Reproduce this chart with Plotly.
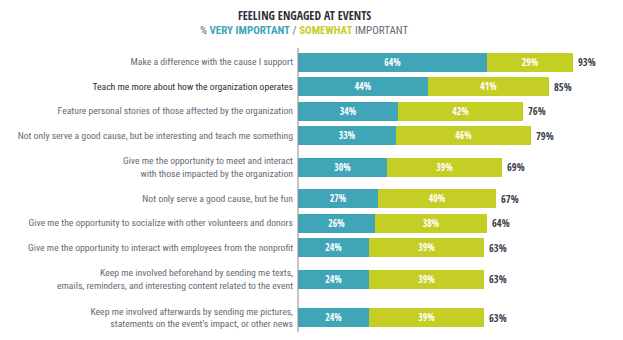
import plotly.graph_objects as go

categories = [
    "Make a difference with the cause I support",
    "Teach me more about how the organization operates",
    "Feature personal stories of those affected by the organization",
    "Not only serve a good cause, but be interesting and teach me something",
    "Give me the opportunity to meet and interact<br>with those impacted by the organization",
    "Not only serve a good cause, but be fun",
    "Give me the opportunity to socialize with other volunteers and donors",
    "Give me the opportunity to interact with employees from the nonprofit",
    "Keep me involved beforehand by sending me texts,<br>emails, reminders, and interesting content related to the event",
    "Keep me involved afterwards by sending me pictures,<br>statements on the event\u2019s impact, or other news",
]
very_important = [64, 44, 34, 33, 30, 27, 26, 24, 24, 24]
somewhat_important = [29, 41, 42, 46, 39, 40, 38, 39, 39, 39]
totals = [93, 85, 76, 79, 69, 67, 64, 63, 63, 63]

TEAL = "#41A5B8"
LIME = "#C5CE24"
LABEL = "#656B75"
DARK = "#3A3D4A"
FONT = "Roboto Condensed, Roboto, sans-serif"
BOLD = "Open Sans Condensed, Roboto Condensed, sans-serif"

# row positions derived from label line counts (pixel-like units)
lines = [c.count("<br>") + 1 for c in categories]
pos = [0.0]
for i in range(1, len(categories)):
    pos.append(pos[-1] + 24.5 + 7 * (lines[i - 1] - 1) + 7 * (lines[i] - 1))

ticktext = []
for i, c in enumerate(categories):
    if i == 1:
        ticktext.append(f"<span style='color:#2E3038'>{c}</span>")
    else:
        ticktext.append(c)

fig = go.Figure()
fig.add_trace(go.Bar(
    y=pos, x=very_important, orientation="h", width=19,
    marker=dict(color=TEAL, line=dict(width=0)),
    text=[f"<b>{v}%</b>" for v in very_important],
    textposition="inside", insidetextanchor="middle",
    textfont=dict(color="white", size=10.5, family=BOLD),
    hoverinfo="skip", name="Very important",
))
fig.add_trace(go.Bar(
    y=pos, x=somewhat_important, orientation="h", width=19,
    marker=dict(color=LIME, line=dict(width=0)),
    text=[f"<b>{v}%</b>" for v in somewhat_important],
    textposition="inside", insidetextanchor="middle",
    textfont=dict(color="white", size=10.5, family=BOLD),
    hoverinfo="skip", name="Somewhat important",
))
for y, t in zip(pos, totals):
    fig.add_annotation(
        x=t, y=y, xref="x", yref="y", xanchor="left", yanchor="middle",
        xshift=3, showarrow=False, text=f"<b>{t}%</b>",
        font=dict(color=DARK, size=10.5, family=BOLD),
    )

fig.update_layout(
    barmode="stack",
    width=623, height=340,
    margin=dict(l=298, r=0, t=45, b=8),
    paper_bgcolor="white", plot_bgcolor="white",
    showlegend=False,
    font=dict(family=FONT, size=9.7, color=LABEL),
    bargap=0,
)
fig.update_xaxes(range=[0, 110], visible=False, fixedrange=True)
fig.update_yaxes(
    range=[270, -17], tickvals=pos, ticktext=ticktext,
    showgrid=False, zeroline=False, ticks="",
    showline=False, automargin=False, ticklabelstandoff=4,
    tickfont=dict(family=FONT, size=9.7, color=LABEL),
    fixedrange=True,
)
fig.add_shape(type="line", xref="paper", yref="paper", x0=0, x1=0, y0=0, y1=0.99,
              line=dict(color="#8A8A8A", width=1))

fig.add_annotation(
    xref="paper", yref="paper", x=(304 - 298) / 325, y=1, yshift=20,
    xanchor="center", yanchor="bottom", showarrow=False,
    text="<b>FEELING ENGAGED AT EVENTS</b>",
    font=dict(family=BOLD, size=11.8, color="#2E3038"),
)
fig.add_annotation(
    xref="paper", yref="paper", x=(304 - 298) / 325, y=1, yshift=6,
    xanchor="center", yanchor="bottom", showarrow=False,
    text=(f"% <span style='color:{TEAL}'><b>VERY IMPORTANT</b></span> / "
          f"<span style='color:{LIME}'><b>SOMEWHAT</b></span> IMPORTANT"),
    font=dict(family=FONT, size=11, color=LABEL),
)

fig.write_html("out.html")
